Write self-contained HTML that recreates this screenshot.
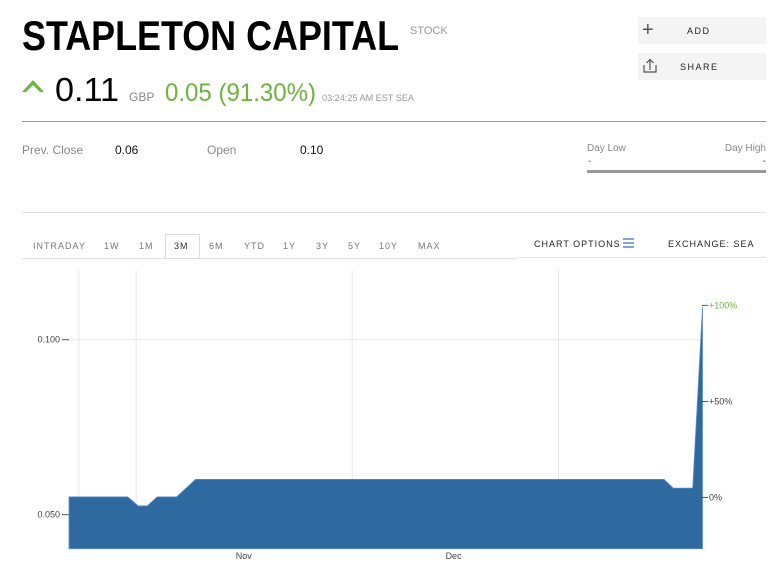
<!DOCTYPE html>
<html><head><meta charset="utf-8"><style>
html,body{margin:0;padding:0;background:#fff;width:778px;height:571px;overflow:hidden}
svg{display:block;font-family:"Liberation Sans",sans-serif}
</style></head><body>
<svg width="778" height="571" viewBox="0 0 778 571">
<g>
<text x="22" y="50" font-size="42" font-weight="bold" textLength="377" lengthAdjust="spacingAndGlyphs" fill="#000">STAPLETON CAPITAL</text>
<text x="410" y="34" font-size="11" fill="#999">STOCK</text>
<rect x="638" y="17" width="128" height="27" fill="#f4f4f4"/>
<text x="642" y="36" font-size="20" fill="#555">+</text>
<text x="687" y="34" font-size="9" letter-spacing="1.5" fill="#222">ADD</text>
<rect x="638" y="53" width="128" height="27" fill="#f4f4f4"/>
<path d="M644 65v7h12v-7M650 70v-10M646.5 63l3.5-3.5 3.5 3.5" stroke="#555" fill="none" stroke-width="1.2"/>
<text x="680" y="70" font-size="9" letter-spacing="1.5" fill="#222">SHARE</text>
<path d="M22 92l11-12 11 12-4 0-7-7-7 7z" fill="#6db33f"/>
<text x="55" y="101" font-size="33" fill="#000" textLength="64" lengthAdjust="spacingAndGlyphs">0.11</text>
<text x="129" y="101" font-size="12" fill="#888">GBP</text>
<text x="165" y="101" font-size="25" fill="#6db33f" textLength="151" lengthAdjust="spacingAndGlyphs">0.05 (91.30%)</text>
<text x="322" y="101" font-size="9" fill="#999" textLength="92" lengthAdjust="spacingAndGlyphs">03:24:25 AM EST SEA</text>
<line x1="22" y1="121.5" x2="766" y2="121.5" stroke="#999"/>
</g>
<g font-size="12">
<text x="22" y="154" fill="#888">Prev. Close</text>
<text x="115" y="154" fill="#111">0.06</text>
<text x="207" y="154" fill="#888">Open</text>
<text x="300" y="154" fill="#111">0.10</text>
<text x="587" y="151" font-size="10" fill="#888">Day Low</text>
<text x="766" y="151" font-size="10" fill="#888" text-anchor="end">Day High</text>
<text x="588" y="164" font-size="10" fill="#555">-</text>
<text x="766" y="164" font-size="10" fill="#555" text-anchor="end">-</text>
<rect x="587" y="170" width="179" height="3" fill="#999"/>
<line x1="22" y1="212.5" x2="766" y2="212.5" stroke="#e2e2e2"/>
</g>
<g font-size="9" fill="#777" letter-spacing="1">
<rect x="165.5" y="234.5" width="34" height="24" fill="#fff" stroke="#ddd"/>
<line x1="22" y1="258.5" x2="165" y2="258.5" stroke="#e2e2e2"/><line x1="200" y1="258.5" x2="517" y2="258.5" stroke="#e2e2e2"/>
<line x1="518" y1="257.5" x2="766" y2="257.5" stroke="#e2e2e2"/>
<text x="33" y="249">INTRADAY</text>
<text x="104" y="249">1W</text>
<text x="139" y="249">1M</text>
<text x="174" y="249" fill="#333">3M</text>
<text x="209" y="249">6M</text>
<text x="244" y="249">YTD</text>
<text x="283" y="249">1Y</text>
<text x="316" y="249">3Y</text>
<text x="348" y="249">5Y</text>
<text x="379" y="249">10Y</text>
<text x="418" y="249">MAX</text>
<text x="534" y="247" fill="#222">CHART OPTIONS</text>
<path d="M623 239h11M623 243h11M623 247h11" stroke="#3a6fb0" stroke-width="1.3"/>
<text x="668" y="247" fill="#222">EXCHANGE: SEA</text>
</g>
<g id="chart"></g>
</svg>
<script>
const days = [-25, -16.6, -15.1, -13.8, -12.4, -9.6, -6.9, 60.1, 61.4, 64.2, 65.6];
const prices = [0.0551, 0.0551, 0.0525, 0.0525, 0.0551, 0.0551, 0.0601, 0.0601, 0.0576, 0.0576, 0.1093];
const yTicks = [0.100, 0.050];
const yTickLabels = ["0.100", "0.050"];
const pctTicks = [0, 50, 100];
const pctTickLabels = ["0%", "+50%", "+100%"];
const monthDays = [0, 30];
const monthLabels = ["Nov", "Dec"];
const gridDays = [-23.6, -15.4, 15.5, 45];
const basePrice = 0.0549;

const NS = "http://www.w3.org/2000/svg";
const g = document.getElementById("chart");
const X0 = 69, X1 = 702.5, D0 = -25, D1 = 65.6;
const yBottom = 548.7;
function xs(d){ return X0 + (d - D0) * (X1 - X0) / (D1 - D0); }
function ys(v){ return 514.7 - (v - 0.05) * 3500; }
function mk(tag, attrs){ const e = document.createElementNS(NS, tag); for (const k in attrs) e.setAttribute(k, attrs[k]); g.appendChild(e); return e; }

gridDays.forEach(d => {
  const l = mk("line", {x1: xs(d), x2: xs(d), y1: 270, y2: yBottom, stroke: "#e8e8e8"});
  
  
});
yTicks.forEach((v, i) => {
  const l = mk("line", {x1: 69, x2: 702, y1: ys(v), y2: ys(v), stroke: "#e8e8e8"});
  
  
  const t = mk("line", {x1: 62, x2: 69, y1: ys(v), y2: ys(v), stroke: "#555"});
  
  
  const tx = mk("text", {x: 60, y: ys(v) + 3, "font-size": 9, fill: "#444", "text-anchor": "end"});
  tx.textContent = yTickLabels[i];
  
  
});
let d = "M" + xs(days[0]) + " " + yBottom;
days.forEach((dd, i) => { d += " L" + xs(dd) + " " + ys(prices[i]); });
d += " L" + xs(days[days.length - 1]) + " " + yBottom + " Z";
const area = mk("path", {d: d, fill: "#2e6aa0", stroke: "#5b8fc4", "stroke-width": 0.8});



pctTicks.forEach((p, i) => {
  const y = ys(basePrice * (1 + p / 100));
  const t = mk("line", {x1: 702, x2: 708, y1: y, y2: y, stroke: "#555"});
  
  
  const tx = mk("text", {x: 709, y: y + 3, "font-size": 9, fill: p === 100 ? "#6db33f" : "#444"});
  tx.textContent = pctTickLabels[i];
  
  
});
monthDays.forEach((m, i) => {
  const tx = mk("text", {x: xs(m), y: 559, "font-size": 9, fill: "#444", "text-anchor": "middle"});
  tx.textContent = monthLabels[i];
  
  
});
</script>
</body></html>
